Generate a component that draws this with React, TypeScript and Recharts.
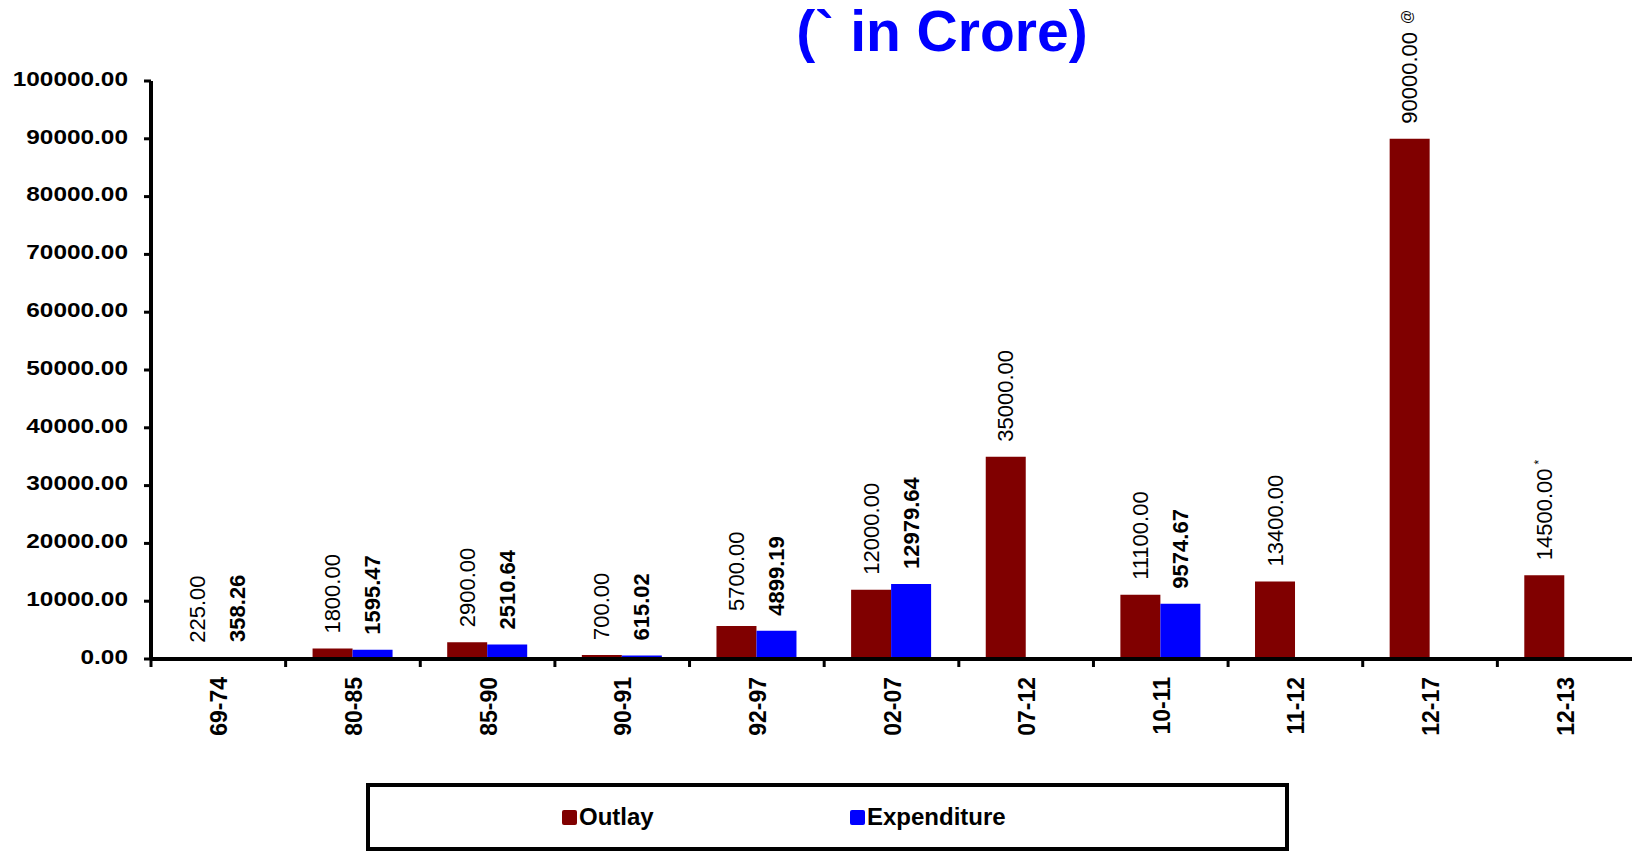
import { Bar, BarChart, LabelList, Legend, XAxis, YAxis } from 'recharts';

const periods = ['69-74', '80-85', '85-90', '90-91', '92-97', '02-07', '07-12', '10-11', '11-12', '12-17', '12-13'];
const outlay = [225, 1800, 2900, 700, 5700, 12000, 35000, 11100, 13400, 90000, 14500];
const expenditure = [358.26, 1595.47, 2510.64, 615.02, 4899.19, 12979.64, null, 9574.67, null, null, null];
// footnote marks printed after some outlay figures
const outlayNotes = ['', '', '', '', '', '', '', '', '', '@', '*'];
const yTicks = [0, 10000, 20000, 30000, 40000, 50000, 60000, 70000, 80000, 90000, 100000];
const seriesNames = ['Outlay', 'Expenditure'];

const OUTLAY_COLOR = '#800000';
const EXPENDITURE_COLOR = '#0000ff';
const FONT = '"Liberation Sans", Arial, sans-serif';
const X_TICK_SIZE = 8;
const X_TICK_MARGIN = 10;

const chartData = periods.map((period, i) => ({
  period,
  outlay: outlay[i],
  expenditure: expenditure[i],
}));

function YTick({ x, y, payload }: any) {
  return (
    <g transform={`translate(${x},${y - 2}) scale(1.22,1)`}>
      <text
        x={0}
        y={0}
        textAnchor="end"
        dominantBaseline="central"
        fontFamily={FONT}
        fontWeight="bold"
        fontSize={20}
        fill="#000"
      >
        {Number(payload.value).toFixed(2)}
      </text>
    </g>
  );
}

function XTick({ x, y, payload, width, visibleTicksCount }: any) {
  const half = payload.offset ?? width / visibleTicksCount / 2;
  const axisY = y - X_TICK_SIZE - X_TICK_MARGIN;
  return (
    <g>
      <line x1={x - half} x2={x - half} y1={axisY} y2={axisY + X_TICK_SIZE} stroke="#000" strokeWidth={3} />
      <text
        transform={`translate(${x + 1},${y}) rotate(-90)`}
        textAnchor="end"
        dominantBaseline="central"
        fontFamily={FONT}
        fontWeight="bold"
        fontSize={23}
        fill="#000"
      >
        {payload.value}
      </text>
    </g>
  );
}

function valueLabel(bold: boolean, notes?: string[]) {
  return (props: any) => {
    const { x, y, width, value, index } = props;
    if (value == null) return null;
    const note = notes ? notes[index] : '';
    return (
      <text
        transform={`translate(${x + width / 2},${y - 15}) rotate(-90)`}
        textAnchor="start"
        dominantBaseline="central"
        fontFamily={FONT}
        fontWeight={bold ? 'bold' : 'normal'}
        fontSize={22}
        fill="#000"
      >
        {Number(value).toFixed(2)}
        {note === '@' && (
          <tspan fontSize={14} dx={8} dy={-3}>
            @
          </tspan>
        )}
        {note === '*' && (
          <tspan fontSize={12} dx={4} dy={-5}>
            *
          </tspan>
        )}
      </text>
    );
  };
}

const legendOffsets = [192, 480];

function LegendBox({ payload }: any) {
  const entries = seriesNames.map((name, i) => {
    const found = (payload || []).find((p: any) => p.value === name);
    return { value: name, color: found ? found.color : [OUTLAY_COLOR, EXPENDITURE_COLOR][i] };
  });
  return (
    <div
      style={{
        position: 'relative',
        boxSizing: 'border-box',
        width: 923,
        height: 68,
        border: '4px solid #000',
        background: '#fff',
        fontFamily: FONT,
        fontWeight: 'bold',
        fontSize: 24,
        color: '#000',
      }}
    >
      {entries.map((entry, i) => (
        <div
          key={entry.value}
          style={{
            position: 'absolute',
            left: legendOffsets[i],
            top: 0,
            height: 60,
            display: 'flex',
            alignItems: 'center',
          }}
        >
          <span
            style={{
              display: 'inline-block',
              width: 15,
              height: 15,
              borderRadius: 2,
              background: entry.color,
              marginRight: 2,
            }}
          />
          <span>{entry.value}</span>
        </div>
      ))}
    </div>
  );
}

export default function App() {
  return (
    <div
      style={{
        position: 'absolute',
        left: 0,
        top: 0,
        width: 1632,
        height: 852,
        background: '#fff',
        overflow: 'hidden',
      }}
    >
      <div
        style={{
          position: 'absolute',
          left: 0,
          top: 3,
          width: 1884,
          textAlign: 'center',
          fontFamily: FONT,
          fontWeight: 'bold',
          fontSize: 57,
          lineHeight: '57px',
          color: EXPENDITURE_COLOR,
          whiteSpace: 'pre',
        }}
      >
        (` in Crore)
      </div>
      <BarChart
        width={1632}
        height={852}
        data={chartData}
        margin={{ top: 81, right: 0, bottom: 0, left: 0 }}
        barCategoryGap="20%"
        barGap={0}
      >
        <XAxis
          dataKey="period"
          height={193}
          interval={0}
          axisLine={{ stroke: '#000', strokeWidth: 4 }}
          tickLine={false}
          tickSize={X_TICK_SIZE}
          tickMargin={X_TICK_MARGIN}
          tick={<XTick />}
        />
        <YAxis
          width={151}
          domain={[0, 100000]}
          ticks={yTicks}
          interval={0}
          axisLine={{ stroke: '#000', strokeWidth: 4 }}
          tickLine={{ stroke: '#000', strokeWidth: 3 }}
          tickSize={7}
          tickMargin={16}
          tick={<YTick />}
        />
        <Legend
          verticalAlign="middle"
          align="center"
          wrapperStyle={{ left: 366, top: 783, width: 923, height: 68 }}
          content={<LegendBox />}
        />
        <Bar dataKey="outlay" name="Outlay" fill={OUTLAY_COLOR} isAnimationActive={false}>
          <LabelList dataKey="outlay" content={valueLabel(false, outlayNotes)} />
        </Bar>
        <Bar dataKey="expenditure" name="Expenditure" fill={EXPENDITURE_COLOR} isAnimationActive={false}>
          <LabelList dataKey="expenditure" content={valueLabel(true)} />
        </Bar>
      </BarChart>
    </div>
  );
}
